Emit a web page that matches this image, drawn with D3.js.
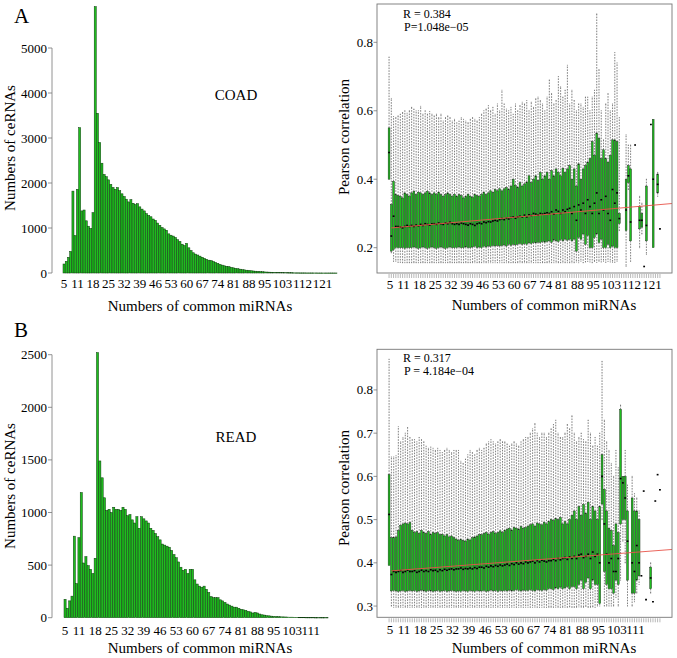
<!DOCTYPE html>
<html><head><meta charset="utf-8">
<script src="https://cdn.jsdelivr.net/npm/d3@7"></script>
<style>body{margin:0;background:#fff}svg{display:block}text{font-family:"Liberation Serif","Times New Roman",serif;fill:#000}</style>
</head><body><script>
// ---------- DATA ----------
const histCatsA = d3.range(5, 128);
const histValsA = [200,260,350,480,1820,830,1860,3230,1380,1400,
1160,1040,990,1340,5920,3550,2900,2440,2190,2140,
2070,1970,1900,1860,1900,1830,1760,1700,1640,1580,
1630,1550,1520,1540,1470,1420,1380,1320,1280,1250,
1200,1170,1110,1060,1010,980,950,870,840,820,
790,740,700,640,610,660,560,500,450,420,
400,375,350,325,305,285,275,255,235,215,
190,175,160,150,140,125,115,105,95,85,
75,70,62,56,50,45,40,36,32,28,
25,22,19,17,15,13,12,10,9,8,
7,6,6,5,4,4,3,3,3,2,
2,2,2,2,1,1,1,1,1,1,
1,1,1];
const histCatsB = d3.range(5, 119);
const histValsB = [175,90,160,205,775,325,760,1190,520,580,
495,460,420,565,2520,1490,1330,1140,1020,1030,
1000,1050,1030,1030,1020,1050,1030,970,980,930,
900,960,850,960,940,920,900,850,830,800,
770,740,700,690,680,670,640,600,570,530,
480,450,460,420,460,460,360,320,300,290,
300,270,240,200,190,190,190,170,160,145,
130,120,110,100,100,90,80,75,70,60,
55,45,50,45,35,28,25,20,18,15,
13,11,10,9,8,7,6,5,5,4,
4,3,3,3,2,2,2,2,1,1,
1,1,1,1];
const histYTicksA = [0,1000,2000,3000,4000,5000];
const histYTicksB = [0,500,1000,1500,2000,2500];
const xTickLabelsA = [5,11,18,25,32,39,46,53,60,67,74,81,88,95,103,112,121];
const xTickLabelsB = [5,11,18,25,32,39,46,53,60,67,74,81,88,95,103,111];

const boxCatsA = d3.range(5, 126);
const boxLoA = [.40,.185,.16,.16,.157,.157,.156,.156,.156,.156,
.156,.156,.156,.156,.156,.156,.156,.156,.156,.156,
.156,.156,.156,.156,.156,.156,.156,.156,.156,.156,
.156,.156,.156,.156,.156,.156,.156,.156,.156,.156,
.156,.156,.156,.156,.156,.156,.156,.156,.156,.156,
.156,.156,.156,.156,.156,.156,.156,.156,.156,.156,
.156,.156,.156,.156,.156,.156,.156,.156,.156,.156,
.156,.156,.156,.156,.156,.156,.156,.156,.156,.156,
.156,.156,.156,.158,.156,.16,.156,.158,.16,.158,
.156,.16,.157,.16,.158,.16,.157,.16,.158,.157,
.157,.16,.25,null,null,.145,.37,.16,null,.50,
null,.20,.24,.145,.18,null,.56,.20,null,.35,
.255];
const boxQ1A = [.40,.19,.195,.20,.20,.20,.20,.198,.20,.20,
.20,.202,.20,.198,.20,.202,.20,.198,.20,.202,
.20,.198,.20,.202,.20,.198,.20,.202,.20,.20,
.20,.202,.20,.20,.202,.20,.20,.202,.204,.20,
.202,.20,.204,.202,.205,.204,.206,.205,.207,.205,
.206,.208,.205,.21,.207,.21,.208,.21,.212,.21,
.212,.21,.214,.212,.215,.214,.216,.215,.218,.216,
.218,.22,.216,.222,.22,.218,.224,.22,.225,.222,
.225,.22,.225,.19,.23,.225,.24,.21,.235,.20,
.20,.23,.24,.215,.225,.20,.20,.21,.20,.205,
.20,.20,.27,null,null,.25,.39,.22,null,.50,
null,.255,.26,.145,.22,null,.56,.20,null,.36,
.255];
const boxMedA = [.478,.234,.292,.262,.262,.26,.258,.262,.265,.262,
.265,.262,.266,.264,.268,.265,.27,.268,.266,.27,
.27,.268,.272,.27,.268,.272,.27,.274,.27,.268,
.27,.268,.272,.27,.268,.266,.27,.268,.265,.27,
.272,.27,.275,.273,.276,.275,.278,.28,.278,.282,
.285,.282,.286,.284,.288,.29,.286,.29,.292,.29,
.295,.29,.296,.294,.30,.298,.295,.30,.298,.30,
.302,.30,.305,.298,.31,.306,.30,.31,.305,.312,
.315,.30,.32,.28,.325,.31,.33,.30,.34,.32,
.30,.33,.36,.30,.34,.31,.35,.30,.28,.37,
.33,.36,.285,null,null,.31,.41,.275,null,.50,
null,.28,.28,.145,.265,null,.56,.40,null,.385,
.255];
const boxQ3A = [.55,.326,.394,.355,.352,.35,.345,.36,.355,.35,
.36,.365,.355,.362,.36,.355,.36,.365,.36,.355,
.36,.355,.362,.355,.35,.355,.36,.355,.35,.356,
.35,.355,.352,.345,.35,.356,.35,.347,.355,.352,
.35,.356,.362,.355,.36,.366,.362,.37,.366,.372,
.366,.372,.376,.37,.38,.40,.382,.376,.39,.38,
.386,.392,.41,.39,.40,.41,.396,.42,.40,.41,
.42,.40,.425,.41,.43,.42,.41,.432,.42,.43,
.44,.40,.43,.38,.445,.40,.43,.44,.45,.46,
.51,.47,.535,.52,.46,.486,.46,.45,.47,.515,
.515,.51,.30,null,null,.40,.44,.43,null,.50,
null,.32,.30,.145,.38,null,.56,.575,null,.415,
.255];
const boxHiA = [.757,.636,.583,.58,.585,.59,.595,.60,.593,.60,
.61,.605,.60,.60,.613,.59,.60,.59,.598,.59,
.585,.59,.58,.59,.57,.58,.585,.58,.57,.575,
.565,.57,.58,.575,.57,.565,.575,.58,.575,.57,
.58,.59,.60,.605,.615,.60,.61,.59,.62,.60,
.66,.62,.605,.60,.61,.59,.62,.60,.615,.625,
.62,.63,.60,.625,.61,.635,.64,.63,.62,.60,
.64,.69,.65,.62,.63,.70,.67,.64,.66,.733,
.62,.66,.63,.60,.62,.62,.61,.64,.64,.60,
.64,.66,.883,.72,.60,.515,.62,.65,.60,.62,
.77,.74,.58,null,null,.53,.50,.50,null,.50,
null,.35,.33,.145,.40,null,.56,.575,null,.42,
.255];

const boxCatsB = d3.range(5, 123);
const boxLoB = [.394,.30,.297,.297,.297,.297,.297,.297,.297,.297,
.297,.297,.297,.297,.297,.297,.297,.297,.297,.297,
.297,.297,.297,.297,.297,.297,.297,.297,.297,.297,
.297,.297,.297,.297,.297,.297,.297,.297,.297,.297,
.297,.297,.297,.297,.297,.297,.297,.297,.297,.297,
.297,.297,.297,.297,.297,.297,.297,.297,.297,.297,
.297,.297,.297,.297,.297,.297,.297,.297,.297,.297,
.297,.297,.297,.297,.297,.297,.297,.297,.298,.297,
.297,.297,.298,.297,.297,.299,.297,.297,.298,.297,
.30,.30,.50,.30,.30,.30,.30,.30,.32,.30,
.36,.45,.40,.30,null,.30,.31,.33,.35,.37,
.566,.315,null,.33,.31,.543,.604,.569];
const boxQ1B = [.394,.335,.336,.335,.334,.335,.336,.334,.335,.336,
.335,.336,.334,.335,.337,.335,.334,.336,.335,.334,
.335,.336,.334,.335,.336,.334,.335,.336,.335,.334,
.335,.334,.336,.335,.334,.336,.335,.334,.336,.335,
.335,.336,.334,.335,.337,.335,.336,.334,.336,.335,
.336,.335,.337,.335,.336,.338,.336,.335,.337,.336,
.336,.338,.336,.335,.338,.337,.336,.338,.337,.34,
.34,.338,.342,.34,.344,.34,.342,.345,.34,.345,
.345,.34,.35,.36,.34,.355,.365,.34,.36,.35,
.35,.306,.536,.38,.35,.34,.34,.33,.36,.35,
.49,.50,.50,.36,null,.33,.33,.36,.37,.37,
.566,.315,null,.34,.31,.543,.604,.569];
const boxMedB = [.512,.373,.38,.378,.38,.382,.378,.38,.383,.38,
.38,.382,.378,.38,.383,.38,.382,.38,.384,.382,
.383,.38,.384,.382,.385,.383,.385,.386,.384,.386,
.386,.388,.385,.387,.386,.388,.386,.389,.387,.39,
.39,.388,.392,.39,.393,.391,.394,.392,.395,.393,
.395,.397,.394,.398,.396,.40,.397,.40,.398,.402,
.40,.402,.404,.40,.405,.402,.406,.404,.402,.405,
.405,.408,.405,.41,.407,.41,.412,.408,.414,.41,
.415,.41,.418,.42,.412,.415,.42,.41,.425,.415,
.42,.40,.60,.49,.42,.40,.41,.38,.38,.41,
.595,.585,.55,.45,null,.40,.38,.44,.40,.37,
.566,.315,null,.365,.31,.543,.604,.569];
const boxQ3B = [.604,.458,.458,.46,.475,.487,.49,.492,.49,.493,
.475,.47,.472,.468,.475,.47,.468,.472,.466,.47,
.468,.47,.465,.466,.462,.465,.46,.462,.458,.455,
.452,.454,.452,.45,.455,.453,.458,.46,.462,.465,
.465,.468,.47,.466,.47,.472,.468,.47,.474,.47,
.475,.478,.48,.476,.482,.48,.478,.484,.48,.482,
.485,.488,.49,.485,.492,.49,.488,.494,.49,.495,
.50,.498,.502,.50,.505,.49,.495,.49,.50,.51,
.52,.50,.53,.51,.535,.515,.54,.50,.53,.52,
.50,.53,.65,.57,.52,.48,.475,.44,.49,.47,
.755,.60,.60,.52,null,.55,.52,.52,.50,.37,
.566,.315,null,.39,.31,.543,.604,.569];
const boxHiB = [.871,.645,.645,.648,.715,.68,.69,.70,.713,.69,
.685,.685,.68,.69,.685,.68,.67,.665,.668,.665,
.66,.665,.66,.655,.66,.665,.66,.655,.66,.66,
.66,.635,.63,.64,.65,.66,.655,.65,.66,.665,
.66,.665,.675,.68,.685,.68,.675,.68,.685,.68,
.68,.675,.67,.675,.68,.675,.67,.68,.685,.69,
.69,.70,.71,.722,.70,.69,.70,.70,.69,.70,
.71,.72,.73,.70,.69,.69,.70,.72,.71,.74,
.70,.68,.69,.70,.685,.68,.73,.70,.67,.69,
.67,.70,.866,.73,.68,.66,.63,.60,.66,.62,
.765,.60,.66,.58,null,.60,.56,.55,.52,.37,
.566,.315,null,.40,.31,.543,.604,.569];
const boxYTicksA = [0.2,0.4,0.6,0.8];
const boxYTicksB = [0.3,0.4,0.5,0.6,0.7,0.8];
const fitA = {intercept: 0.2543, slope: 0.000573, from: 6};
const fitB = {intercept: 0.379, slope: 0.000408, from: 6};
const statsA = ["R = 0.384", "P=1.048e\u221205"];
const statsB = ["R = 0.317", "P = 4.184e\u221204"];

// ---------- DRAW ----------
const W = 677, H = 658;
const svg = d3.select("body").append("svg").attr("width", W).attr("height", H);
const GREEN = "#1ebd1e";

function histPanel(o) {
  const g = svg.append("g");
  const x = d3.scaleBand().domain(o.cats).range(o.xr).paddingInner(0.08);
  const y = d3.scaleLinear().domain(o.yd).range(o.yr);
  g.selectAll("rect").data(o.vals).join("rect")
    .attr("x", (d, i) => x(o.cats[i]))
    .attr("width", x.bandwidth())
    .attr("y", d => y(d))
    .attr("height", d => Math.max(0.4, y(0) - y(d)))
    .attr("fill", GREEN).attr("stroke", "#0c3a0c").attr("stroke-width", 0.5);
  const ax = 52;
  g.append("line").attr("x1", ax).attr("x2", ax)
    .attr("y1", y(o.yTicks[0])).attr("y2", y(o.yTicks[o.yTicks.length - 1]))
    .attr("stroke", "#777").attr("stroke-width", 0.8);
  o.yTicks.forEach(t => {
    g.append("line").attr("x1", ax - 4).attr("x2", ax).attr("y1", y(t)).attr("y2", y(t))
      .attr("stroke", "#777").attr("stroke-width", 0.8);
    g.append("text").attr("x", ax - 5).attr("y", y(t)).attr("dy", "0.35em")
      .attr("text-anchor", "end").attr("font-size", 13).text(t);
  });
  o.xTicks.forEach(t => {
    g.append("text").attr("x", x(t) + x.bandwidth() / 2).attr("y", o.tickY)
      .attr("text-anchor", "middle").attr("font-size", 13).text(t);
  });
  g.append("text").attr("x", 200).attr("y", o.titleY).attr("text-anchor", "middle")
    .attr("font-size", 15).text("Numbers of common miRNAs");
  g.append("text").attr("transform", `translate(15,${o.ytitleC}) rotate(-90)`)
    .attr("text-anchor", "middle").attr("font-size", 15).text("Numbers of ceRNAs");
  g.append("text").attr("x", 236).attr("y", o.nameY).attr("text-anchor", "middle")
    .attr("font-size", 15).text(o.name);
  g.append("text").attr("x", 14).attr("y", o.letterY).attr("font-size", 21).text(o.letter);
}

function boxPanel(o) {
  const g = svg.append("g");
  const n = o.cats.length;
  const c0 = o.cats[0];
  const x = d3.scaleLinear()
    .domain([c0 - 0.5 - 0.04 * n, c0 - 0.5 + n + 0.04 * n]).range([377, 672]);
  const step = x(c0 + 1) - x(c0);
  const y = d3.scaleLinear().domain(o.yd).range(o.yr);
  const bw = step * 0.8;
  const data = o.cats.map((c, i) => ({c, lo: o.lo[i], q1: o.q1[i], med: o.med[i], q3: o.q3[i], hi: o.hi[i]}))
    .filter(d => d.med !== null);
  const wc = "#4a4a4a";
  data.forEach(d => {
    const cx = x(d.c);
    if (d.hi > d.q3) {
      g.append("line").attr("x1", cx).attr("x2", cx).attr("y1", y(d.q3)).attr("y2", y(d.hi))
        .attr("stroke", wc).attr("stroke-width", 0.7).attr("stroke-dasharray", "1.6,1.2");
      g.append("line").attr("x1", cx - bw / 4).attr("x2", cx + bw / 4).attr("y1", y(d.hi)).attr("y2", y(d.hi))
        .attr("stroke", wc).attr("stroke-width", 0.6);
    }
    if (d.lo < d.q1) {
      g.append("line").attr("x1", cx).attr("x2", cx).attr("y1", y(d.q1)).attr("y2", y(d.lo))
        .attr("stroke", wc).attr("stroke-width", 0.7).attr("stroke-dasharray", "1.6,1.2");
      g.append("line").attr("x1", cx - bw / 4).attr("x2", cx + bw / 4).attr("y1", y(d.lo)).attr("y2", y(d.lo))
        .attr("stroke", wc).attr("stroke-width", 0.6);
    }
  });
  g.selectAll("rect.box").data(data).join("rect").attr("class", "box")
    .attr("x", d => x(d.c) - bw / 2).attr("width", bw)
    .attr("y", d => y(d.q3)).attr("height", d => Math.max(0, y(d.q1) - y(d.q3)))
    .attr("fill", GREEN).attr("stroke", "#1a2a1a").attr("stroke-width", 0.45);
  g.selectAll("line.med").data(data).join("line").attr("class", "med")
    .attr("x1", d => x(d.c) - bw / 2).attr("x2", d => x(d.c) + bw / 2)
    .attr("y1", d => y(d.med)).attr("y2", d => y(d.med))
    .attr("stroke", "#000").attr("stroke-width", 1.6);
  const xEnd = x.domain()[1];
  g.append("line")
    .attr("x1", x(o.fit.from)).attr("y1", y(o.fit.intercept + o.fit.slope * o.fit.from))
    .attr("x2", x(xEnd)).attr("y2", y(o.fit.intercept + o.fit.slope * xEnd))
    .attr("stroke", "#e8544a").attr("stroke-width", 0.9);
  g.append("rect").attr("x", 377).attr("y", o.yr[1]).attr("width", 295).attr("height", o.yr[0] - o.yr[1])
    .attr("fill", "none").attr("stroke", "#777").attr("stroke-width", 0.9);
  o.cats.forEach(c => {
    g.append("line").attr("x1", x(c)).attr("x2", x(c)).attr("y1", o.yr[0] + 1).attr("y2", o.yr[0] + 5)
      .attr("stroke", "#888").attr("stroke-width", 0.6);
  });
  o.xTicks.forEach(t => {
    g.append("text").attr("x", x(t) + 1).attr("y", o.tickY).attr("text-anchor", "middle")
      .attr("font-size", 13).text(t);
  });
  o.yTicks.forEach(t => {
    g.append("line").attr("x1", 373.5).attr("x2", 377).attr("y1", y(t)).attr("y2", y(t))
      .attr("stroke", "#777").attr("stroke-width", 0.8);
    g.append("text").attr("x", 373).attr("y", y(t)).attr("dy", "0.35em").attr("text-anchor", "end")
      .attr("font-size", 13).text(d3.format(".1f")(t));
  });
  g.append("text").attr("x", 544).attr("y", o.titleY).attr("text-anchor", "middle")
    .attr("font-size", 15).text("Numbers of common miRNAs");
  g.append("text").attr("transform", `translate(349,${o.ytitleC}) rotate(-90)`)
    .attr("text-anchor", "middle").attr("font-size", 15).text("Pearson correlation");
  g.append("text").attr("x", 403).attr("y", o.statY).attr("font-size", 12).text(o.stats[0]);
  g.append("text").attr("x", 404).attr("y", o.statY + 12.5).attr("font-size", 12).text(o.stats[1]);
}

histPanel({cats: histCatsA, vals: histValsA, xr: [63, 337], yd: [0, 6000], yr: [273, 3],
  yTicks: histYTicksA, xTicks: xTickLabelsA, tickY: 288, titleY: 311, ytitleC: 148,
  name: "COAD", nameY: 100, letter: "A", letterY: 23});
histPanel({cats: histCatsB, vals: histValsB, xr: [64, 328], yd: [0, 2500], yr: [617.7, 354.7],
  yTicks: histYTicksB, xTicks: xTickLabelsB, tickY: 635, titleY: 653, ytitleC: 486,
  name: "READ", nameY: 442, letter: "B", letterY: 337});
boxPanel({cats: boxCatsA, lo: boxLoA, q1: boxQ1A, med: boxMedA, q3: boxQ3A, hi: boxHiA,
  yd: [0.126, 0.912], yr: [273, 4], yTicks: boxYTicksA, xTicks: xTickLabelsA,
  tickY: 289, titleY: 310, ytitleC: 137, fit: fitA, stats: statsA, statY: 18});
boxPanel({cats: boxCatsB, lo: boxLoB, q1: boxQ1B, med: boxMedB, q3: boxQ3B, hi: boxHiB,
  yd: [0.274, 0.894], yr: [617.3, 349.3], yTicks: boxYTicksB, xTicks: xTickLabelsB,
  tickY: 634, titleY: 653, ytitleC: 488, fit: fitB, stats: statsB, statY: 362});
</script></body></html>
